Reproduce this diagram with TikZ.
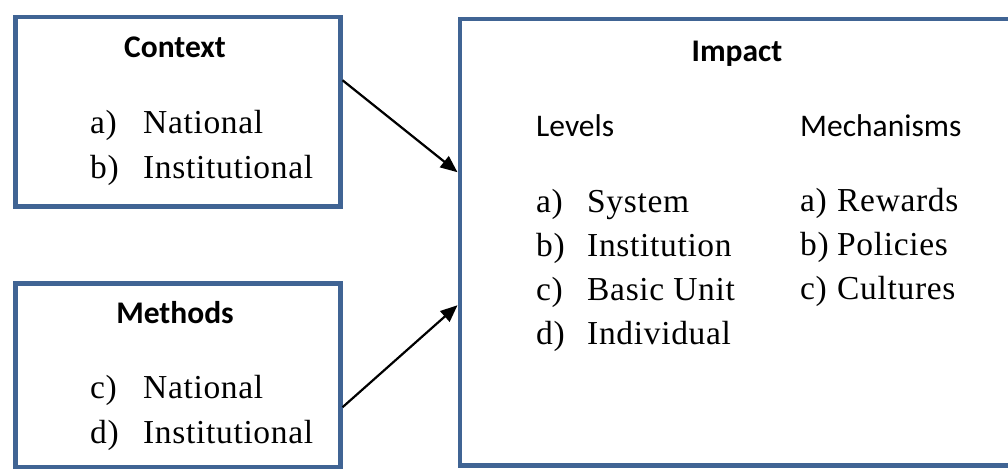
\documentclass[tikz,border=0pt]{standalone}
\usepackage{fontspec}
\setmainfont{Liberation Serif}[LetterSpace=2]
\newfontfamily\headfont{Carlito}
\usetikzlibrary{arrows.meta}
\definecolor{frameblue}{RGB}{64,100,148}
\tikzset{
  box/.style={draw=frameblue, line width=4.5pt, fill=white, inner sep=0pt, anchor=north west},
  title/.style={inner sep=0pt, anchor=base, font=\headfont\fontsize{31.5}{36}\selectfont\bfseries},
  head/.style={inner sep=0pt, anchor=base west, font=\headfont\fontsize{31.5}{36}\selectfont},
  item/.style={inner sep=0pt, anchor=base west, font=\fontsize{33.5}{38}\selectfont},
  link/.style={-{Triangle[length=17pt,width=14pt]}, line width=2.2pt, black}
}
\begin{document}
\begin{tikzpicture}[x=1pt, y=-1pt]
  \useasboundingbox (0,0) rectangle (1008,468);
  \clip (0,0) rectangle (1008,468);
  \fill[white] (0,0) rectangle (1008,468);

  % frames
  \node[box, minimum width=325pt, minimum height=189pt] (context) at (13,15) {};
  \node[box, minimum width=325pt, minimum height=184pt] (methods) at (13,281) {};
  \node[box, minimum width=560pt, minimum height=446pt] (impact) at (457.5,17) {};

  % Context
  \node[title] (ctxT) at (175,58) {Context};
  \node[item] (ctxA) at (90,133) {a)};
  \node[item] (ctxAt) at (143,133) {National};
  \node[item] (ctxB) at (90,178) {b)};
  \node[item] (ctxBt) at (143,178) {Institutional};

  % Methods
  \node[title] (metT) at (175,323) {Methods};
  \node[item] (metC) at (90,398) {c)};
  \node[item] (metCt) at (143,398) {National};
  \node[item] (metD) at (90,443) {d)};
  \node[item] (metDt) at (143,443) {Institutional};

  % Impact
  \node[title] (impT) at (737,62) {Impact};
  \node[head] (lev) at (536,136) {Levels};
  \node[head] (mech) at (800,136) {Mechanisms};

  \node[item] (levA) at (536,212) {a)};
  \node[item] (levAt) at (587,212) {System};
  \node[item] (levB) at (536,256) {b)};
  \node[item] (levBt) at (587,256) {Institution};
  \node[item] (levC) at (536,300) {c)};
  \node[item] (levCt) at (587,300) {Basic Unit};
  \node[item] (levD) at (536,344) {d)};
  \node[item] (levDt) at (587,344) {Individual};

  \node[item] (mecA) at (800,211) {a)};
  \node[item] (mecAt) at (837,211) {Rewards};
  \node[item] (mecB) at (800,255) {b)};
  \node[item] (mecBt) at (837,255) {Policies};
  \node[item] (mecC) at (800,299) {c)};
  \node[item] (mecCt) at (837,299) {Cultures};

  % connectors
  \draw[link] ([yshift=31.5pt]context.east) -- ([yshift=70pt]impact.west);
  \draw[link] ([yshift=-32pt]methods.east) -- ([yshift=-63pt]impact.west);
\end{tikzpicture}
\end{document}
